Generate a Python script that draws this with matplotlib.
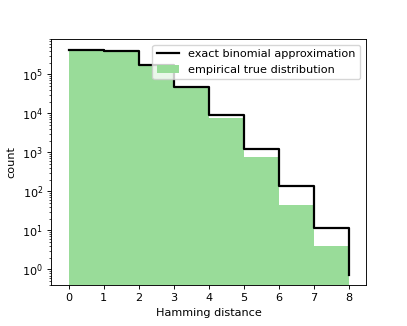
import numpy as np
import matplotlib
matplotlib.use("Agg")
import matplotlib.pyplot as plt

# Hamming distance values
distances = [0, 1, 2, 3, 4, 5, 6, 7, 8]
# exact binomial approximation (step, where='post')
binomial_counts = [4.2e5, 3.9e5, 1.73e5, 4.8e4, 9.1e3, 1.24e3, 137, 11.3, 0.74]
# empirical true distribution (histogram bins 0-1, ..., 7-8)
bin_edges = [0, 1, 2, 3, 4, 5, 6, 7, 8]
empirical_counts = [4.2e5, 3.9e5, 1.75e5, 4.7e4, 7.4e3, 745, 44, 4.0]

scale = 0.814
plt.rcParams['font.size'] = 10 * scale
plt.rcParams['lines.linewidth'] = 1.6
plt.rcParams['axes.linewidth'] = 0.8 * scale
for a in ('xtick', 'ytick'):
    plt.rcParams[a + '.major.size'] = 3.5 * scale
    plt.rcParams[a + '.minor.size'] = 2 * scale
    plt.rcParams[a + '.major.width'] = 0.8 * scale
    plt.rcParams[a + '.minor.width'] = 0.6 * scale
    plt.rcParams[a + '.major.pad'] = 3.5 * scale

fig = plt.figure(figsize=(4.07, 3.26), dpi=100)
ax = fig.add_axes([51 / 407, (326 - 285) / 326, (366 - 51) / 407, (285 - 39) / 326])

ax.step(distances, binomial_counts, where='post', color='black',
        label='exact binomial approximation')
ax.hist(bin_edges[:-1], bins=bin_edges, weights=empirical_counts,
        color='#99dc99', label='empirical true distribution')

ax.set_yscale('log')
ax.set_xlim(-0.5, 8.5)
ax.set_ylim(0.4, 8e5)
ax.set_xticks(distances)
ax.set_xlabel('Hamming distance')
ax.set_ylabel('count')
ax.legend(loc='upper right')

fig.savefig('out.png', dpi=100)
